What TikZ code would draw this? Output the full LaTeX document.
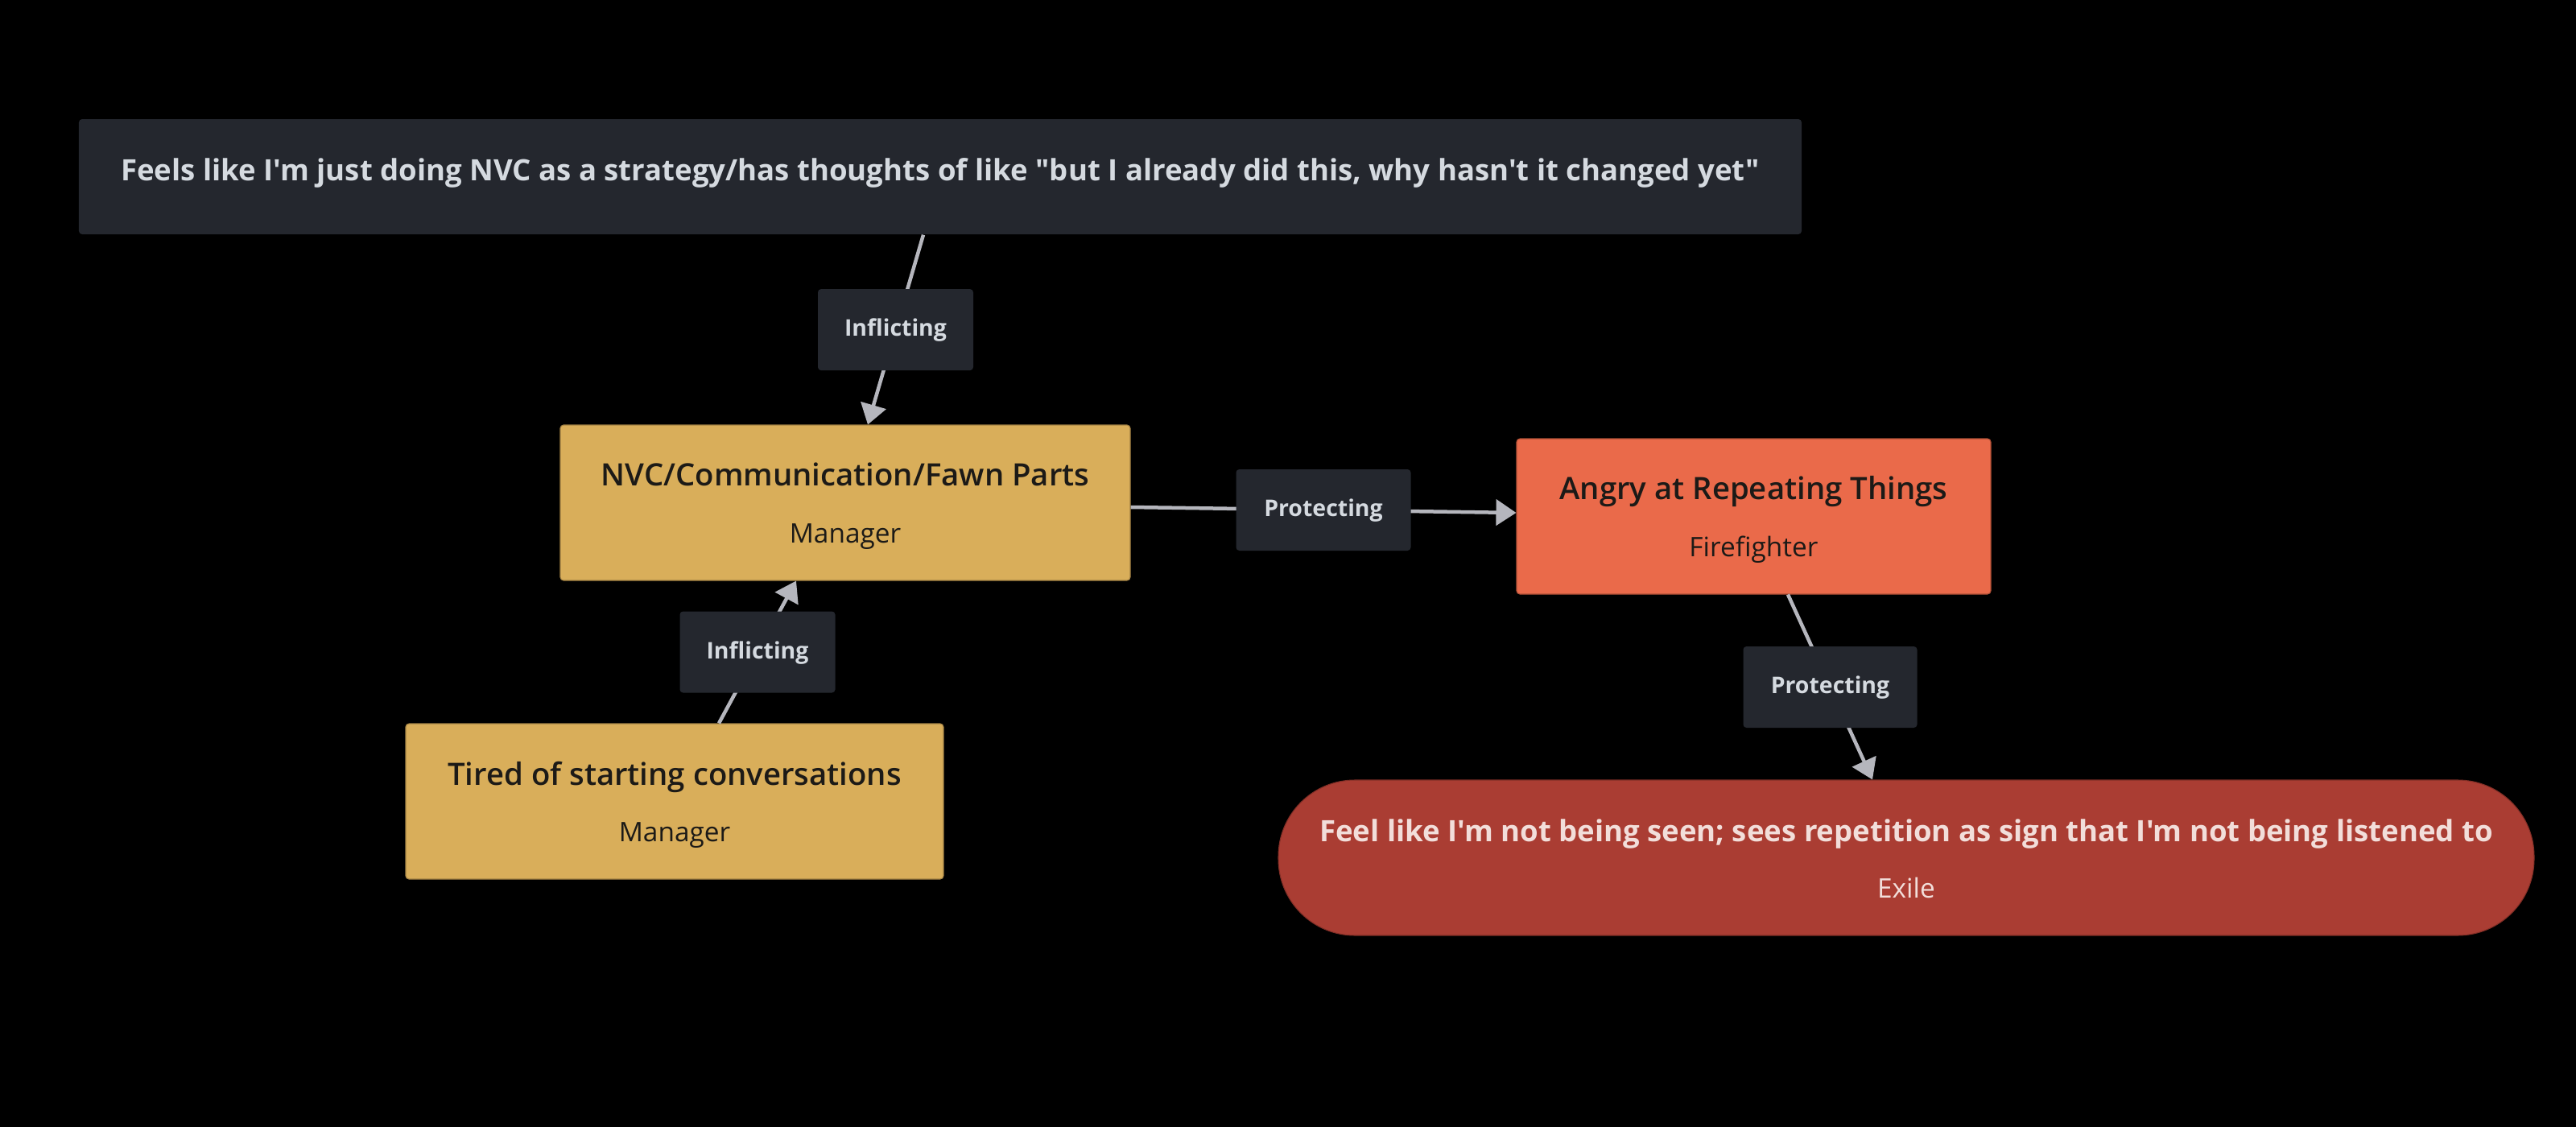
\documentclass[tikz,border=0pt]{standalone}
\usepackage{fontspec}
\setmainfont{Open Sans}[Ligatures=TeXOff]
\IfFontExistsTF{Open Sans SemiBold}
  {\newfontfamily\tebal{Open Sans SemiBold}[Ligatures=TeXOff]}
  {\IfFontExistsTF{Open Sans Semibold}
     {\newfontfamily\tebal{Open Sans Semibold}[Ligatures=TeXOff]}
     {\newfontfamily\tebal{Open Sans}[Ligatures=TeXOff, UprightFont=*/B]}}
\usetikzlibrary{arrows.meta, positioning}

\definecolor{gelap}{HTML}{24272E}
\definecolor{emas}{HTML}{D9AE5A}
\definecolor{jingga}{HTML}{EA6A4A}
\definecolor{merah}{HTML}{AA3D33}
\definecolor{garis}{HTML}{B5B6BD}
\definecolor{terang}{HTML}{D5DAE0}
\definecolor{merahmuda}{HTML}{F2DEDA}
\definecolor{tinta}{HTML}{1C1A17}

% baris judul dan baris peran di dalam kotak bagian
\newcommand{\judul}[1]{{\fontsize{10.9pt}{20.06pt}\selectfont\tebal\rule{0pt}{11.24pt}#1}}
\newcommand{\peran}[1]{\rule[-2.85pt]{0pt}{0pt}#1}

\begin{document}
\begin{tikzpicture}[
    font=\fontsize{9.5pt}{20.06pt}\selectfont,
    bagian/.style={draw=#1!75!black, fill=#1, line width=0.3pt, rounded corners=0.04cm,
                   minimum height=1.93cm, align=center, inner sep=0pt, text=tinta},
    hubungan/.style={fill=gelap, rounded corners=0.04cm, minimum width=1.93cm,
                     minimum height=1.01cm, inner sep=0pt, text=terang,
                     text height=8pt, text depth=3.45pt,
                     font=\fontsize{8.1pt}{10pt}\selectfont\bfseries},
    panah/.style={-{Triangle[length=0.25cm, width=0.32cm]}, line width=0.045cm, draw=garis}
  ]
    \useasboundingbox (0,0) rectangle (32,-14);
    \fill[black] (0,0) rectangle (32,-14);

    \node[fill=gelap, rounded corners=0.04cm, minimum width=21.4cm, minimum height=1.43cm,
          inner sep=0pt, text height=11.4pt, text depth=8.8pt,
          text=terang, font=\fontsize{10.4pt}{12pt}\selectfont\bfseries] (strategi) at (11.68,-2.195)
          {Feels like I'm just doing NVC as a strategy/has thoughts of like "but I already did this, why hasn't it changed yet"};
    \node[bagian=emas, minimum width=7.08cm] (nvc) at (10.50,-6.245)
          {\judul{NVC/Communication/Fawn Parts}\\\peran{Manager}};
    \node[bagian=emas, minimum width=6.68cm] (lelah) at (8.38,-9.955)
          {\judul{Tired of starting conversations}\\\peran{Manager}};
    \node[bagian=jingga, minimum width=5.89cm] (marah) at (21.785,-6.415)
          {\judul{Angry at Repeating Things}\\\peran{Firefighter}};
    \node[bagian=merah, rounded corners=0.95cm, minimum width=15.6cm, text=merahmuda] (exile) at (23.68,-10.655)
          {{\fontsize{10.4pt}{20.06pt}\selectfont\bfseries\rule{0pt}{11.24pt}Feel like I'm not being seen; sees repetition as sign that I'm not being listened to}\\\peran{Exile}};

    \draw[panah] ([xshift=-0.21cm]strategi.south) -- node[hubungan] (infA) {Inflicting} ([xshift=0.28cm]nvc.north);
    \draw[panah] ([xshift=0.55cm]lelah.north) -- node[hubungan] (infB) {Inflicting} ([xshift=-0.61cm]nvc.south);
    \draw[panah] ([yshift=-0.055cm]nvc.east) -- node[hubungan, minimum width=2.17cm] (protA) {Protecting} ([yshift=0.045cm]marah.west);
    \draw[panah] ([xshift=0.425cm]marah.south) -- node[hubungan, minimum width=2.16cm] (protB) {Protecting} ([xshift=-0.42cm]exile.north);
  \end{tikzpicture}
\end{document}
